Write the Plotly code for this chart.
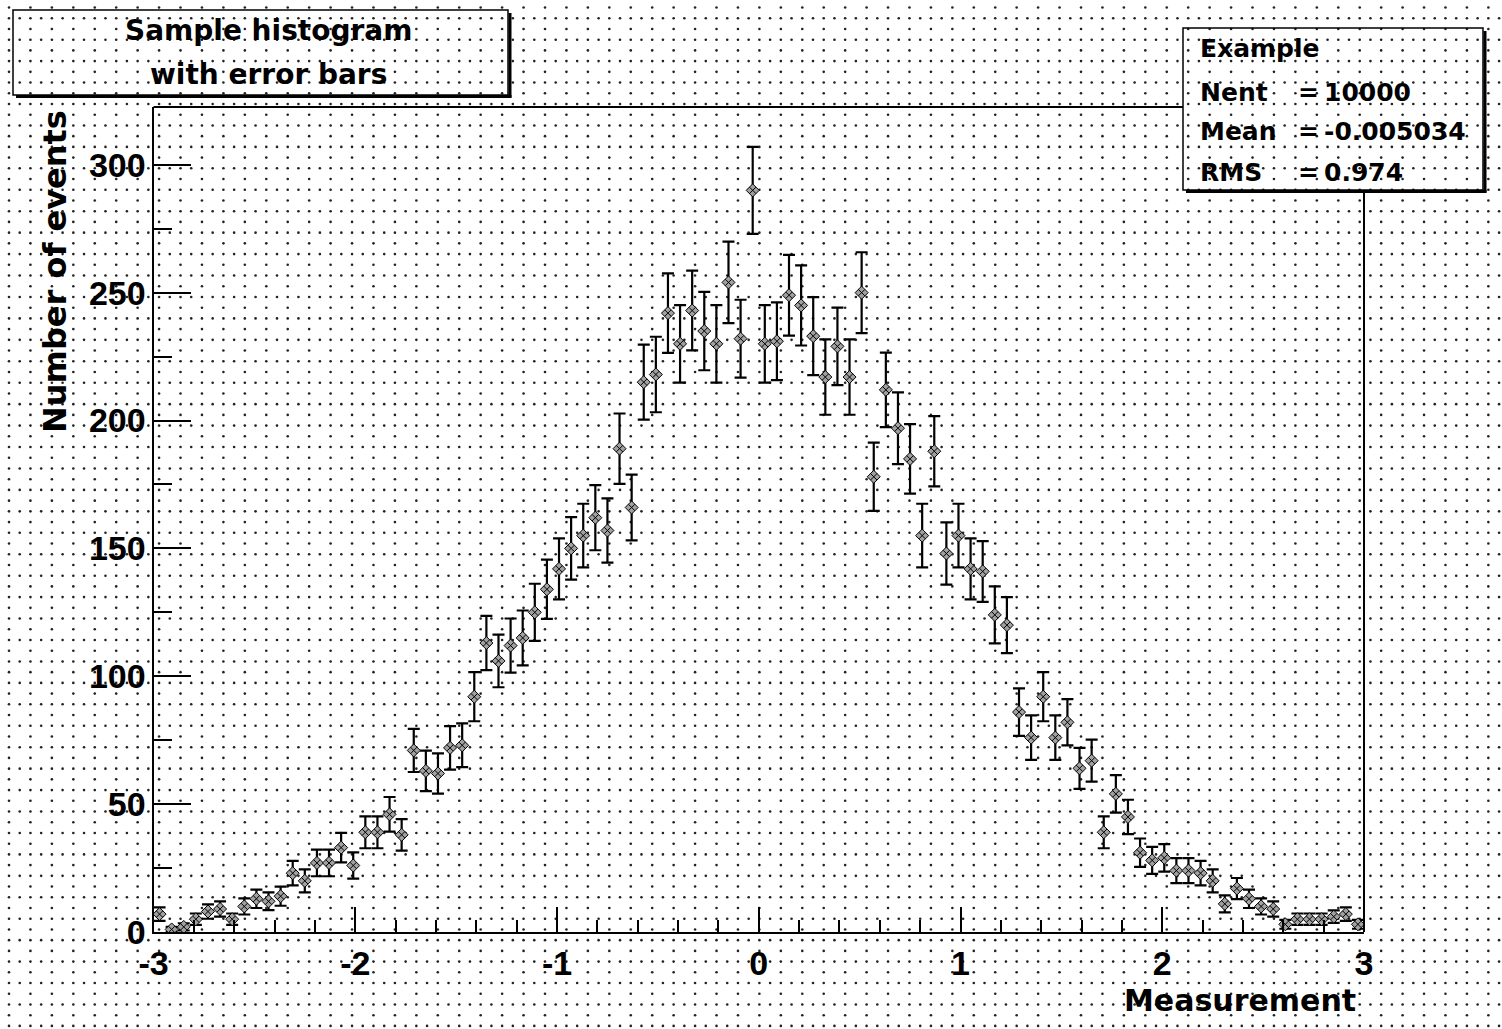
import numpy as np
import plotly.graph_objects as go

# ---------------- data ----------------
n_bins = 100
x_low, x_high = -3.0, 3.0
counts = [
    7, 1, 2, 5, 8, 9, 5, 10, 13, 12,
    14, 23, 20, 27, 27, 33, 26, 39, 39, 46,
    38, 71, 63, 62, 72, 73, 92, 113, 106, 112,
    115, 125, 134, 142, 150, 155, 162, 157, 189, 166,
    215, 218, 242, 230, 243, 235, 230, 254, 232, 290,
    230, 231, 249, 245, 233, 217, 229, 217, 250, 178,
    212, 197, 185, 155, 188, 148, 155, 142, 141, 124,
    120, 86, 76, 92, 76, 82, 64, 67, 39, 54,
    45, 31, 28, 29, 24, 24, 23, 20, 11, 17,
    13, 10, 9, 3, 5, 5, 5, 6, 7, 3,
]
x_ticks = [-3, -2, -1, 0, 1, 2, 3]
y_ticks = [0, 50, 100, 150, 200, 250, 300]
title_lines = ["Sample histogram", "with error bars"]
stats_name = "Example"
stats_rows = [("Nent", "10000"), ("Mean", "-0.005034"), ("RMS", "0.974")]
x_title = "Measurement"
y_title = "Number of events"

bin_w = (x_high - x_low) / n_bins
centers = x_low + bin_w * (np.arange(n_bins) + 0.5)
errors = np.sqrt(np.array(counts, dtype=float))

# ---------------- geometry (pixels) ----------------
W, H = 1502, 1029
PL, PR, PT, PB = 153.5, 1364.0, 107.0, 932.0
y_max = 322.6

fig = go.Figure()

# background dotted pattern (page fill style)
p = 10.72
xs, ys = [], []
for i in range(int((H - 7.52) / p) + 1):
    yy = 7.52 + p * i
    for j in range(int((W - 9) / p) + 1):
        if i % 2 == 0 and j % 2 == 1:
            continue
        xs.append(9 + p * j)
        ys.append(yy)
fig.add_trace(go.Scatter(x=xs, y=ys, mode="markers", xaxis="x", yaxis="y",
                         marker=dict(size=2.6, color="#222222", line=dict(width=0)),
                         hoverinfo="skip", showlegend=False))

# histogram with error bars
fig.add_trace(go.Scatter(
    x=centers, y=counts, mode="markers", xaxis="x2", yaxis="y2",
    marker=dict(symbol="diamond-x", size=10, color="#a0a0a0",
                line=dict(color="black", width=1)),
    error_y=dict(type="data", array=errors, visible=True,
                 color="black", thickness=2.2, width=6),
    showlegend=False))

FONT_T = "DejaVu Sans"
FONT_N = "Liberation Sans"

shapes = []
# frame top & right (broken by the stats box)
shapes.append(dict(type="line", xref="x", yref="y", x0=PL, x1=1183, y0=PT, y1=PT,
                   line=dict(color="black", width=2)))
shapes.append(dict(type="line", xref="x", yref="y", x0=PR, x1=PR, y0=192, y1=PB,
                   line=dict(color="black", width=2)))
# title box
shapes.append(dict(type="rect", xref="x", yref="y", x0=13, x1=508, y0=10, y1=95,
                   line=dict(color="black", width=1.5)))
shapes.append(dict(type="line", xref="x", yref="y", x0=510, x1=510, y0=13, y1=97.5,
                   line=dict(color="black", width=3)))
shapes.append(dict(type="line", xref="x", yref="y", x0=16, x1=511.5, y0=96.5, y1=96.5,
                   line=dict(color="black", width=3)))
# stats box
shapes.append(dict(type="rect", xref="x", yref="y", x0=1183, x1=1483, y0=28, y1=190,
                   line=dict(color="black", width=1.5)))
shapes.append(dict(type="line", xref="x", yref="y", x0=1485, x1=1485, y0=31, y1=192.5,
                   line=dict(color="black", width=3)))
shapes.append(dict(type="line", xref="x", yref="y", x0=1186, x1=1486.5, y0=191.5, y1=191.5,
                   line=dict(color="black", width=3)))

ann = []
def txt(x, y, s, size, font=FONT_T, xanchor="left", angle=0):
    ann.append(dict(x=x, y=y, xref="x", yref="y", text=s, showarrow=False,
                    xanchor=xanchor, yanchor="middle", textangle=angle,
                    font=dict(family=font, size=size, color="black", weight="bold")))

txt(268, 30, title_lines[0], 28, xanchor="center")
txt(268, 74, title_lines[1], 28, xanchor="center")
txt(1198, 48, stats_name, 25)
row_y = [92, 131, 172]
for (nm, val), yy in zip(stats_rows, row_y):
    txt(1198, yy, nm, 25)
    txt(1296, yy, "=", 25)
    txt(1322, yy, val, 25)
txt(1358, 1000, x_title, 30, xanchor="right")
txt(55, 272, y_title, 32, xanchor="center", angle=-90)

fig.update_layout(
    width=W, height=H, autosize=False,
    margin=dict(l=0, r=0, t=0, b=0, pad=0, autoexpand=False),
    paper_bgcolor="white", plot_bgcolor="rgba(0,0,0,0)",
    showlegend=False,
    xaxis=dict(domain=[0, 1], range=[0, W], visible=False, fixedrange=True,
               automargin=False),
    yaxis=dict(domain=[0, 1], range=[H, 0], visible=False, fixedrange=True,
               automargin=False),
    xaxis2=dict(domain=[PL / W, PR / W], anchor="y2", range=[x_low, x_high],
                automargin=False,
                showgrid=False, zeroline=False, showline=True, linecolor="black",
                linewidth=2, ticks="inside", ticklen=25, tickwidth=2, tickcolor="black",
                tickvals=x_ticks, ticktext=[str(v) for v in x_ticks],
                ticklabelstandoff=0,
                tickfont=dict(family=FONT_N, size=34, color="black", weight="bold"),
                minor=dict(ticks="inside", ticklen=12, tickwidth=2, tickcolor="black",
                           dtick=0.2, tick0=x_low, showgrid=False)),
    yaxis2=dict(domain=[(H - PB) / H, (H - PT) / H], anchor="x2", range=[0, y_max],
                automargin=False,
                showgrid=False, zeroline=False, showline=True, linecolor="black",
                linewidth=2, ticks="inside", ticklen=37, tickwidth=2, tickcolor="black",
                tickvals=y_ticks, ticktext=[str(v) for v in y_ticks],
                ticklabelstandoff=-1,
                tickfont=dict(family=FONT_N, size=34, color="black", weight="bold"),
                minor=dict(ticks="inside", ticklen=18, tickwidth=2, tickcolor="black",
                           dtick=25, tick0=0, showgrid=False)),
    shapes=shapes, annotations=ann,
)

fig.write_html("out.html", config={"displayModeBar": False},
               post_script="document.body.style.margin='0';document.body.style.overflow='hidden';")
